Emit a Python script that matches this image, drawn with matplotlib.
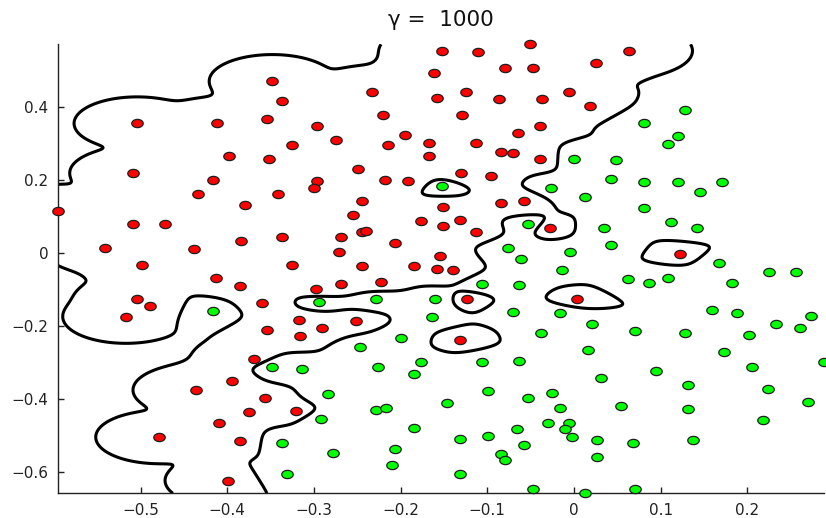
import numpy as np
import matplotlib
matplotlib.use('Agg')
import matplotlib.pyplot as plt
from matplotlib.path import Path

plt.rcParams['font.family'] = ['DejaVu Sans']

# ---- data ----
red_x = [-0.504, -0.412, -0.398, -0.509, -0.416, -0.434, -0.380, -0.595, -0.509, -0.472,
         -0.541, -0.438, -0.384, -0.498, -0.348, -0.337, -0.354, -0.296, -0.325, -0.274,
         -0.352, -0.233, -0.220, -0.195, -0.214, -0.167, -0.167, -0.162, -0.158, -0.152,
         -0.249, -0.296, -0.300, -0.218, -0.191, -0.341, -0.245, -0.255, -0.177, -0.151,
         -0.151, -0.337, -0.269, -0.244, -0.240, -0.206, -0.271, -0.325, -0.245, -0.185,
         -0.158, -0.154, -0.111, -0.051, 0.064, -0.080, -0.047, 0.025, -0.125, -0.087,
         -0.037, -0.006, 0.018, -0.129, -0.039, -0.064, -0.113, -0.084, -0.070, -0.039,
         -0.130, -0.096, -0.084, -0.058, -0.131, -0.113, -0.028, -0.140, 0.122, -0.413,
         -0.385, -0.504, -0.489, -0.517, -0.369, -0.395, -0.436, -0.375, -0.410, -0.479,
         -0.385, -0.399, -0.298, -0.269, -0.223, -0.360, -0.317, -0.251, -0.354, -0.316,
         -0.291, -0.356, -0.321, -0.123, 0.003, -0.131]
red_y = [0.356, 0.356, 0.267, 0.220, 0.202, 0.162, 0.133, 0.116, 0.079, 0.079,
         0.015, 0.011, 0.033, -0.033, 0.472, 0.418, 0.368, 0.350, 0.296, 0.310,
         0.259, 0.443, 0.379, 0.325, 0.296, 0.303, 0.267, 0.494, 0.425, 0.555,
         0.230, 0.199, 0.180, 0.202, 0.199, 0.162, 0.144, 0.104, 0.088, 0.126,
         0.076, 0.044, 0.044, 0.059, 0.062, 0.028, 0.004, -0.033, -0.035, -0.035,
         -0.042, -0.007, 0.552, 0.573, 0.555, 0.508, 0.508, 0.522, 0.443, 0.422,
         0.422, 0.443, 0.404, 0.379, 0.350, 0.330, 0.302, 0.278, 0.274, 0.258,
         0.220, 0.213, 0.137, 0.144, 0.090, 0.058, 0.069, -0.047, -0.003, -0.068,
         -0.090, -0.126, -0.144, -0.174, -0.289, -0.349, -0.375, -0.436, -0.465, -0.504,
         -0.516, -0.623, -0.097, -0.083, -0.079, -0.137, -0.184, -0.187, -0.209, -0.227,
         -0.205, -0.396, -0.433, -0.126, -0.126, -0.238]

green_x = [-0.152, 0.000, 0.048, 0.043, -0.027, 0.013, -0.053, 0.035, 0.043, -0.076,
           -0.061, -0.004, -0.014, 0.128, 0.081, 0.120, 0.109, 0.081, 0.120, 0.145,
           0.171, 0.081, 0.112, 0.142, 0.167, 0.225, 0.256, -0.416, -0.294, -0.228,
           -0.160, -0.164, -0.200, -0.247, -0.348, -0.314, -0.226, -0.177, -0.185, -0.284,
           -0.228, -0.217, -0.292, -0.185, -0.337, -0.278, -0.206, -0.210, -0.331, -0.147,
           0.062, -0.106, -0.063, -0.070, -0.016, 0.021, -0.038, 0.071, 0.016, -0.106,
           -0.063, 0.031, -0.099, -0.053, -0.025, -0.016, 0.054, -0.030, -0.006, -0.010,
           -0.002, -0.066, -0.099, -0.132, -0.058, 0.027, 0.068, -0.084, -0.080, 0.027,
           -0.132, -0.047, 0.013, 0.071, 0.087, 0.109, 0.183, 0.159, 0.188, 0.274,
           0.233, 0.261, 0.128, 0.202, 0.173, 0.289, 0.095, 0.206, 0.132, 0.224,
           0.270, 0.132, 0.218, 0.137]
green_y = [0.184, 0.259, 0.256, 0.204, 0.180, 0.154, 0.079, 0.069, 0.022, 0.015,
           -0.015, 0.004, -0.047, 0.393, 0.356, 0.321, 0.299, 0.195, 0.195, 0.169,
           0.195, 0.123, 0.087, 0.068, -0.026, -0.050, -0.050, -0.158, -0.133, -0.126,
           -0.126, -0.176, -0.231, -0.256, -0.313, -0.317, -0.313, -0.299, -0.332, -0.386,
           -0.429, -0.425, -0.454, -0.479, -0.519, -0.547, -0.537, -0.580, -0.605, -0.411,
           -0.071, -0.083, -0.087, -0.162, -0.165, -0.195, -0.219, -0.212, -0.266, -0.299,
           -0.295, -0.342, -0.378, -0.396, -0.382, -0.425, -0.418, -0.465, -0.464, -0.482,
           -0.503, -0.482, -0.501, -0.508, -0.526, -0.512, -0.519, -0.550, -0.566, -0.558,
           -0.605, -0.645, -0.658, -0.645, -0.082, -0.068, -0.082, -0.155, -0.165, -0.173,
           -0.195, -0.205, -0.219, -0.223, -0.270, -0.299, -0.324, -0.313, -0.361, -0.371,
           -0.407, -0.428, -0.458, -0.512]

gamma = 1000.0          # RBF kernel parameter (title)
bias = -0.005           # decision-function offset
title_text = 'γ =  1000'
xtick_vals = [-0.5, -0.4, -0.3, -0.2, -0.1, 0.0, 0.1, 0.2]
xtick_labels = ['\u22120.5', '\u22120.4', '\u22120.3', '\u22120.2', '\u22120.1', '0', '0.1', '0.2']
ytick_vals = [-0.6, -0.4, -0.2, 0.0, 0.2, 0.4]
ytick_labels = ['\u22120.6', '\u22120.4', '\u22120.2', '0', '0.2', '0.4']

# ---- figure ----
fig = plt.figure(figsize=(8.26, 5.18), dpi=100)
left, right, bottom, top = 0.0706, 0.998, 0.0477, 0.9145
ax = fig.add_axes([left, bottom, right - left, top - bottom])

all_x = np.array(red_x + green_x)
all_y = np.array(red_y + green_y)
xmin, xmax = all_x.min(), all_x.max()
ymin, ymax = all_y.min(), all_y.max()

# RBF kernel decision function
gx = np.linspace(xmin, xmax, 700)
gy = np.linspace(ymin, ymax, 700)
X, Y = np.meshgrid(gx, gy)
F = np.full_like(X, bias)
for px, py in zip(red_x, red_y):
    F += np.exp(-gamma * ((X - px) ** 2 + (Y - py) ** 2))
for px, py in zip(green_x, green_y):
    F -= np.exp(-gamma * ((X - px) ** 2 + (Y - py) ** 2))
ax.contour(X, Y, F, levels=[0.0], colors='black', linewidths=2.2, zorder=2)

# slightly flattened round marker
t = np.linspace(0, 2 * np.pi, 49)
ell = Path(np.column_stack([np.cos(t), 0.72 * np.sin(t)]), closed=True)
ax.scatter(red_x, red_y, s=68, marker=ell, facecolor='#ff0000', edgecolor='#202020',
           linewidths=0.9, zorder=3, clip_on=False)
ax.scatter(green_x, green_y, s=68, marker=ell, facecolor='#00ff00', edgecolor='#202020',
           linewidths=0.9, zorder=3, clip_on=False)

ax.set_xlim(xmin, xmax)
ax.set_ylim(ymin, ymax)
ax.set_xticks(xtick_vals)
ax.set_xticklabels(xtick_labels)
ax.set_yticks(ytick_vals)
ax.set_yticklabels(ytick_labels)
ax.tick_params(direction='in', length=4, width=1, labelsize=11, colors='#222222')
ax.tick_params(axis='x', pad=7)
ax.tick_params(axis='y', pad=7)
for s in ['top', 'right']:
    ax.spines[s].set_visible(False)
for s in ['left', 'bottom']:
    ax.spines[s].set_color('#222222')
    ax.spines[s].set_linewidth(1.0)

fig.text(left + (right - left) / 2, 1 - 20 / 518, title_text, ha='center', va='center',
         fontsize=15.5, color='#111111')

fig.savefig('out.png', dpi=100)
